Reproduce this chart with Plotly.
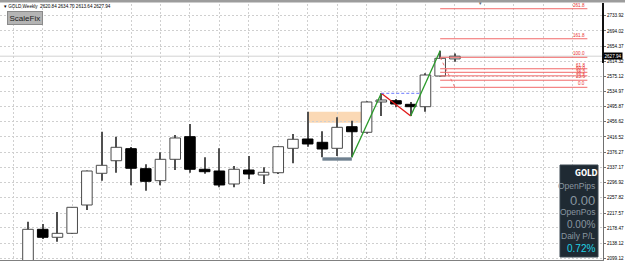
import plotly.graph_objects as go

# ---------------- data ----------------
symbol_header = "GOLD,Weekly  2620.84 2634.70 2613.64 2627.94"
bar_index = list(range(30))
opens = [2042.2, 2174.9, 2154.0, 2164.4, 2238.5, 2321.5, 2354.4, 2385.9, 2333.5, 2302.1,
         2358.1, 2417.3, 2332.0, 2327.5, 2293.5, 2330.1, 2317.0, 2323.0, 2386.9, 2411.2,
         2402.6, 2386.9, 2443.4, 2428.8, 2508.1, 2511.5, 2502.0, 2495.8, 2576.1, 2620.84]
highs = [2194.8, 2188.8, 2220.2, 2233.3, 2328.8, 2430.3, 2417.3, 2390.3, 2345.0, 2376.4,
         2421.7, 2450.5, 2363.4, 2386.9, 2340.6, 2366.7, 2337.2, 2392.9, 2424.3, 2482.7,
         2431.4, 2468.0, 2459.1, 2510.0, 2530.8, 2515.9, 2508.1, 2583.0, 2642.3, 2634.70]
lows = [2016.0, 2149.5, 2142.5, 2162.6, 2225.4, 2302.1, 2323.0, 2290.1, 2275.9, 2290.1,
        2330.1, 2323.0, 2320.0, 2284.8, 2284.8, 2305.8, 2293.5, 2319.6, 2347.6, 2391.1,
        2363.3, 2366.7, 2363.3, 2425.0, 2471.4, 2494.0, 2471.4, 2482.7, 2574.8, 2613.64]
closes = [2174.9, 2154.0, 2164.4, 2232.5, 2327.5, 2342.4, 2389.5, 2334.6, 2300.5, 2358.1,
          2413.9, 2332.0, 2325.7, 2290.9, 2332.0, 2319.6, 2324.1, 2391.1, 2410.5, 2398.2,
          2385.1, 2441.8, 2430.3, 2508.1, 2513.3, 2502.8, 2495.8, 2578.7, 2622.4, 2627.94]

y_tick_vals = [2733.92, 2694.02, 2654.37, 2614.32, 2575.12, 2534.97, 2495.87, 2456.62,
               2416.52, 2376.27, 2337.17, 2296.92, 2257.82, 2217.57, 2178.47, 2138.12, 2099.12]
y_tick_text = ["%.2f" % v for v in y_tick_vals]

fib_low = 2546.5
fib_high = 2625.05
fib_levels = [0.0, 23.6, 38.2, 50.0, 61.8, 100.0, 161.8, 261.8]
fib_start_bar = 28
fib_end_bar = 38
fib_anchor_bars = [28, 29]

# swing structure (bar index pairs)
swing_bars = [22, 24, 26, 28]
swing_prices = [lows[22], highs[24], lows[26], highs[28]]

supply_zone = dict(x0=19, x1=22.65, y0=2453.9, y1=2482.7)
demand_zone = dict(x0=20, x1=22, y0=2354.5, y1=2363.3)

panel_symbol = "GOLD"
panel_rows = [("OpenPips", "label"), ("0.00", "big"), ("OpenPos", "label"),
              ("0.00%", "mid"), ("Daily P/L", "label"), ("0.72%", "pl")]

# ---------------- geometry helpers (pixels -> paper) ----------------
W, H = 625, 261
ML, MR, MT, MB = 0, 22, 4, 1
PW, PH = W - ML - MR, H - MT - MB


def px(xp):
    return (xp - ML) / PW


def py(yp):
    return (H - MB - yp) / PH


fig = go.Figure()

# wicks (thin bars, drawn first)
fig.add_trace(go.Bar(x=bar_index, base=lows, y=[h - l for h, l in zip(highs, lows)],
                     width=0.07, marker=dict(color="#505050", line=dict(width=0)),
                     hoverinfo="skip", showlegend=False))

# bodies
up_x = [i for i in bar_index if closes[i] >= opens[i]]
dn_x = [i for i in bar_index if closes[i] < opens[i]]
fig.add_trace(go.Bar(x=up_x, base=[opens[i] for i in up_x],
                     y=[max(closes[i] - opens[i], 0.6) for i in up_x], width=0.72,
                     marker=dict(color="white", line=dict(color="#4a4a4a", width=1)),
                     showlegend=False))
fig.add_trace(go.Bar(x=dn_x, base=[closes[i] for i in dn_x],
                     y=[opens[i] - closes[i] for i in dn_x], width=0.72,
                     marker=dict(color="black", line=dict(color="black", width=1)),
                     showlegend=False))

# swing lines
line_cols = ["#2a9a2a", "#e01818", "#2a9a2a"]
for k in range(3):
    fig.add_trace(go.Scatter(x=swing_bars[k:k + 2], y=swing_prices[k:k + 2], mode="lines",
                             line=dict(color=line_cols[k], width=1.3),
                             hoverinfo="skip", showlegend=False))

# broken high (blue dashed) up to crossing with the second up-leg
cross_x = swing_bars[2] + (swing_prices[1] - swing_prices[2]) / (swing_prices[3] - swing_prices[2]) * (swing_bars[3] - swing_bars[2])
fig.add_trace(go.Scatter(x=[swing_bars[1], cross_x], y=[swing_prices[1], swing_prices[1]],
                         mode="lines", line=dict(color="#6a78ff", width=1, dash="3px,2px"),
                         hoverinfo="skip", showlegend=False))

# fibonacci levels
fx, fy = [], []
for lv in fib_levels:
    p = fib_low + (fib_high - fib_low) * lv / 100.0
    fx += [fib_start_bar, fib_end_bar, None]
    fy += [p, p, None]
fig.add_trace(go.Scatter(x=fx, y=fy, mode="lines", line=dict(color="#f26a6a", width=1),
                         hoverinfo="skip", showlegend=False))
fig.add_trace(go.Scatter(x=fib_anchor_bars, y=[fib_high, fib_low], mode="lines",
                         line=dict(color="#f07070", width=1, dash="dot"),
                         hoverinfo="skip", showlegend=False))

shapes = []
# zones
shapes.append(dict(type="rect", xref="x", yref="y", layer="below", line=dict(width=0),
                   fillcolor="#fbd9b5", **supply_zone))
shapes.append(dict(type="rect", xref="x", yref="y", layer="above", line=dict(width=0),
                   fillcolor="#6f808f", **demand_zone))
# bid line
shapes.append(dict(type="line", xref="paper", yref="y", x0=0, x1=1, y0=closes[-1], y1=closes[-1],
                   line=dict(color="#d2d2d2", width=1), layer="below"))
# top bar
shapes.append(dict(type="rect", xref="paper", yref="paper", x0=0, x1=W / PW, y0=py(2.5), y1=py(0),
                   fillcolor="#9c9c9c", line=dict(width=0)))
# right axis dark part
shapes.append(dict(type="line", xref="paper", yref="paper", x0=1, x1=1, y0=py(63), y1=py(3),
                   line=dict(color="#111111", width=2)))
# info panel
shapes.append(dict(type="rect", xref="paper", yref="paper", x0=px(560), x1=px(598), y0=py(257), y1=py(165),
                   fillcolor="#1f2a33", line=dict(color="#3a4650", width=1), layer="above"))

annotations = []
# header
annotations.append(dict(xref="paper", yref="paper", x=px(2), y=py(6), xanchor="left", yanchor="middle",
                        text="▾ " + symbol_header, showarrow=False,
                        font=dict(family="Liberation Sans", size=4.6, color="#000000")))
annotations.append(dict(xref="paper", yref="paper", x=px(480), y=py(3), xanchor="center", yanchor="middle",
                        text="▾", showarrow=False, font=dict(size=5, color="#666666")))
# ScaleFix button
annotations.append(dict(xref="paper", yref="paper", x=px(24.5), y=py(17.5), xanchor="center", yanchor="middle",
                        text="ScaleFix", showarrow=False, bgcolor="#b4b4b4", bordercolor="#8a8a8a",
                        borderwidth=1, borderpad=1.5,
                        font=dict(family="Liberation Sans", size=8, color="#202020")))
# fib labels
for lv in fib_levels:
    p = fib_low + (fib_high - fib_low) * lv / 100.0
    annotations.append(dict(xref="x", yref="y", x=fib_end_bar, y=p, xanchor="right", yanchor="bottom",
                            text="%.1f" % lv, showarrow=False, yshift=-1,
                            font=dict(family="Liberation Sans", size=4.6, color="#e83030")))
# current price label
annotations.append(dict(xref="paper", yref="y", x=1.0, y=closes[-1], xanchor="left", yanchor="middle",
                        text="%.2f" % closes[-1], showarrow=False, bgcolor="#000000", borderpad=0.5,
                        font=dict(family="Liberation Sans", size=4.6, color="#ffffff")))
# panel texts
annotations.append(dict(xref="paper", yref="paper", x=px(586), y=py(173.5), xanchor="center", yanchor="middle",
                        text="<b>" + panel_symbol + "</b>", showarrow=False,
                        font=dict(family="Liberation Sans Narrow, DejaVu Sans Condensed, Liberation Sans",
                                  size=8, color="#ffffff")))
row_y = [185.5, 200, 212, 224.7, 236, 248]
styles = {"label": (8.5, "#8a96a0"), "big": (13, "#8a96a0"), "mid": (10, "#8a96a0"), "pl": (10, "#22d3e6")}
for (txt, st), yy in zip(panel_rows, row_y):
    sz, col = styles[st]
    annotations.append(dict(xref="paper", yref="paper", x=px(596.5), y=py(yy), xanchor="right", yanchor="middle",
                            text=txt, showarrow=False,
                            font=dict(family="Liberation Sans", size=sz, color=col)))

x0_bar = (0 - 28) / 14.72
x1_bar = (603 - 28) / 14.72

fig.update_layout(
    width=W, height=H, margin=dict(l=ML, r=MR, t=MT, b=MB),
    paper_bgcolor="white", plot_bgcolor="white", barmode="overlay",
    showlegend=False, shapes=shapes, annotations=annotations,
    xaxis=dict(range=[x0_bar, x1_bar], tickvals=list(range(-1, 41, 2)), showticklabels=False,
               showgrid=True, gridcolor="#cfcfcf", griddash="2px,2px", gridwidth=1,
               zeroline=False, showline=True, linecolor="#808080", linewidth=1, ticks=""),
    yaxis=dict(range=[2775.0 - 2.617 * 260, 2775.0 - 2.617 * 4], side="right",
               tickvals=y_tick_vals, ticktext=y_tick_text, showgrid=True, gridcolor="#cfcfcf",
               griddash="2px,2px", gridwidth=1, zeroline=False, showline=True, linecolor="#707070",
               linewidth=1, ticks="outside", ticklen=2, tickcolor="#707070",
               tickfont=dict(family="Liberation Sans", size=4.6, color="#000000")),
)

fig.write_html("out.html")
